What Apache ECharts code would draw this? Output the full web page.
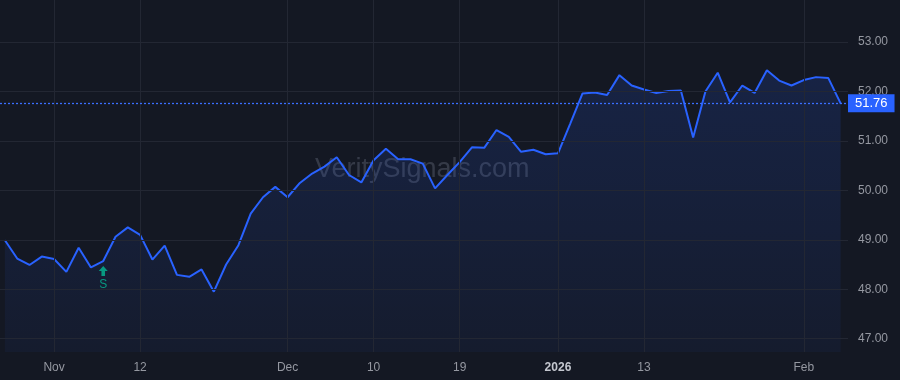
<!DOCTYPE html>
<html>
<head>
<meta charset="utf-8">
<script src="https://cdn.jsdelivr.net/npm/echarts@6/dist/echarts.min.js"></script>
<style>
  html, body { margin: 0; padding: 0; background: #141823; }
  #chart { width: 900px; height: 380px; }
</style>
</head>
<body>
<div id="chart"></div>
<script>
// trading days shown on the chart
var dates = [
  '2025-10-28','2025-10-29','2025-10-30','2025-10-31','2025-11-03','2025-11-04','2025-11-05','2025-11-06','2025-11-07',
  '2025-11-10','2025-11-11','2025-11-12','2025-11-13','2025-11-14','2025-11-17','2025-11-18','2025-11-19','2025-11-20',
  '2025-11-21','2025-11-24','2025-11-25','2025-11-26','2025-11-28','2025-12-01','2025-12-02','2025-12-03','2025-12-04',
  '2025-12-05','2025-12-08','2025-12-09','2025-12-10','2025-12-11','2025-12-12','2025-12-15','2025-12-16','2025-12-17',
  '2025-12-18','2025-12-19','2025-12-22','2025-12-23','2025-12-24','2025-12-26','2025-12-29','2025-12-30','2025-12-31',
  '2026-01-02','2026-01-05','2026-01-06','2026-01-07','2026-01-08','2026-01-09','2026-01-12','2026-01-13','2026-01-14',
  '2026-01-15','2026-01-16','2026-01-20','2026-01-21','2026-01-22','2026-01-23','2026-01-26','2026-01-27','2026-01-28',
  '2026-01-29','2026-01-30','2026-02-02','2026-02-03','2026-02-04','2026-02-05'
];
// closing prices
var prices = [
  48.99, 48.62, 48.49, 48.66, 48.61, 48.35, 48.84, 48.44, 48.57,
  49.06, 49.25, 49.10, 48.60, 48.88, 48.29, 48.25, 48.40, 47.95,
  48.50, 48.89, 49.53, 49.86, 50.07, 49.86, 50.15, 50.34, 50.48,
  50.67, 50.31, 50.16, 50.61, 50.84, 50.63, 50.63, 50.54, 50.04,
  50.31, 50.57, 50.87, 50.86, 51.22, 51.08, 50.78, 50.82, 50.73,
  50.75, 51.35, 51.96, 51.98, 51.93, 52.33, 52.12, 52.04, 51.97,
  52.01, 52.02, 51.07, 52.00, 52.38, 51.78, 52.12, 51.97, 52.43,
  52.22, 52.12, 52.23, 52.29, 52.27, 51.76
];
// x axis ticks
var tickDates = ['2025-11-03','2025-11-12','2025-12-01','2025-12-10','2025-12-19','2026-01-02','2026-01-13','2026-02-02'];
var tickLabels = ['Nov', '12', 'Dec', '10', '19', '2026', '13', 'Feb'];
// y axis ticks
var yTicks = [47, 48, 49, 50, 51, 52, 53];
// signals
var signalDates = ['2025-11-07'];
var signalLabels = ['S'];

var tickIdx = tickDates.map(function (d) { return dates.indexOf(d); });
var seriesData = prices.map(function (v, i) { return [i, v]; });
var lastPrice = prices[prices.length - 1];

var gridColor = '#232733';
var blue = '#2962ff';

var chart = echarts.init(document.getElementById('chart'));

var vLines = tickIdx.map(function (i) { return { xAxis: i }; });
var hLines = yTicks.map(function (v) { return { yAxis: v }; });

chart.setOption({
  backgroundColor: '#141823',
  animation: false,
  textStyle: { fontFamily: 'Liberation Sans, Arial, sans-serif' },
  graphic: [{
    type: 'text',
    left: 424 - 109,
    top: 172 - 16,
    z: 0,
    style: {
      text: 'VeritySignals.com',
      fill: 'rgba(125, 131, 150, 0.32)',
      fontSize: 27,
      fontFamily: 'Liberation Sans, Arial, sans-serif'
    }
  }],
  grid: { left: 0, right: 52, top: 0, bottom: 28 },
  xAxis: {
    type: 'value',
    min: -0.4,
    max: 68.6,
    axisLine: { show: false },
    axisTick: { show: false },
    splitLine: { show: false },
    axisLabel: {
      customValues: tickIdx,
      margin: 10,
      fontSize: 12,
      color: '#9598a1',
      formatter: function (val) {
        var k = tickIdx.indexOf(Math.round(val));
        if (k < 0) return '';
        var t = tickLabels[k];
        return /^\d{4}$/.test(t) ? '{b|' + t + '}' : t;
      },
      rich: {
        b: { fontWeight: 'bold', color: '#c4c7cf', fontSize: 12 }
      }
    }
  },
  yAxis: {
    type: 'value',
    position: 'right',
    min: 46.73,
    max: 53.85,
    axisLine: { show: false },
    axisTick: { show: false },
    splitLine: { show: false },
    axisLabel: {
      customValues: yTicks,
      margin: 10,
      fontSize: 12,
      color: '#9598a1',
      formatter: function (v) { return v.toFixed(2); }
    }
  },
  series: [
    {
      // grid lines, drawn under the price area
      type: 'line',
      z: 1,
      data: seriesData,
      symbol: 'none',
      lineStyle: { opacity: 0 },
      silent: true,
      markLine: {
        silent: true,
        symbol: 'none',
        label: { show: false },
        lineStyle: { color: gridColor, type: 'solid', width: 1 },
        data: vLines.concat(hLines)
      }
    },
    {
      type: 'line',
      z: 3,
      data: seriesData,
      symbol: 'none',
      lineStyle: { color: blue, width: 2 },
      areaStyle: {
        color: new echarts.graphic.LinearGradient(0, 0, 0, 1, [
          { offset: 0, color: 'rgba(41, 98, 255, 0.22)' },
          { offset: 1, color: 'rgba(41, 98, 255, 0.07)' }
        ])
      },
      markLine: {
        silent: true,
        symbol: 'none',
        lineStyle: { color: '#3a6fff', type: [2, 2], width: 1.3, opacity: 1 },
        label: {
          show: true,
          position: 'end',
          distance: 0,
          formatter: function () { return lastPrice.toFixed(2); },
          color: '#ffffff',
          fontSize: 13,
          backgroundColor: blue,
          padding: [3, 7, 2, 7]
        },
        data: [{ yAxis: lastPrice }]
      },
      markPoint: {
        silent: true,
        data: signalDates.map(function (d, k) {
          var i = dates.indexOf(d);
          return {
            coord: [i, prices[i]],
            symbol: 'path://M5 0 L10 5 L7 5 L7 10 L3 10 L3 5 L0 5 Z',
            symbolSize: [9, 10],
            symbolOffset: [0, 10],
            itemStyle: { color: '#089981' },
            label: {
              show: true,
              position: 'bottom',
              distance: 3,
              formatter: signalLabels[k],
              color: '#089981',
              fontSize: 12
            }
          };
        })
      }
    }
  ]
});
</script>
</body>
</html>
